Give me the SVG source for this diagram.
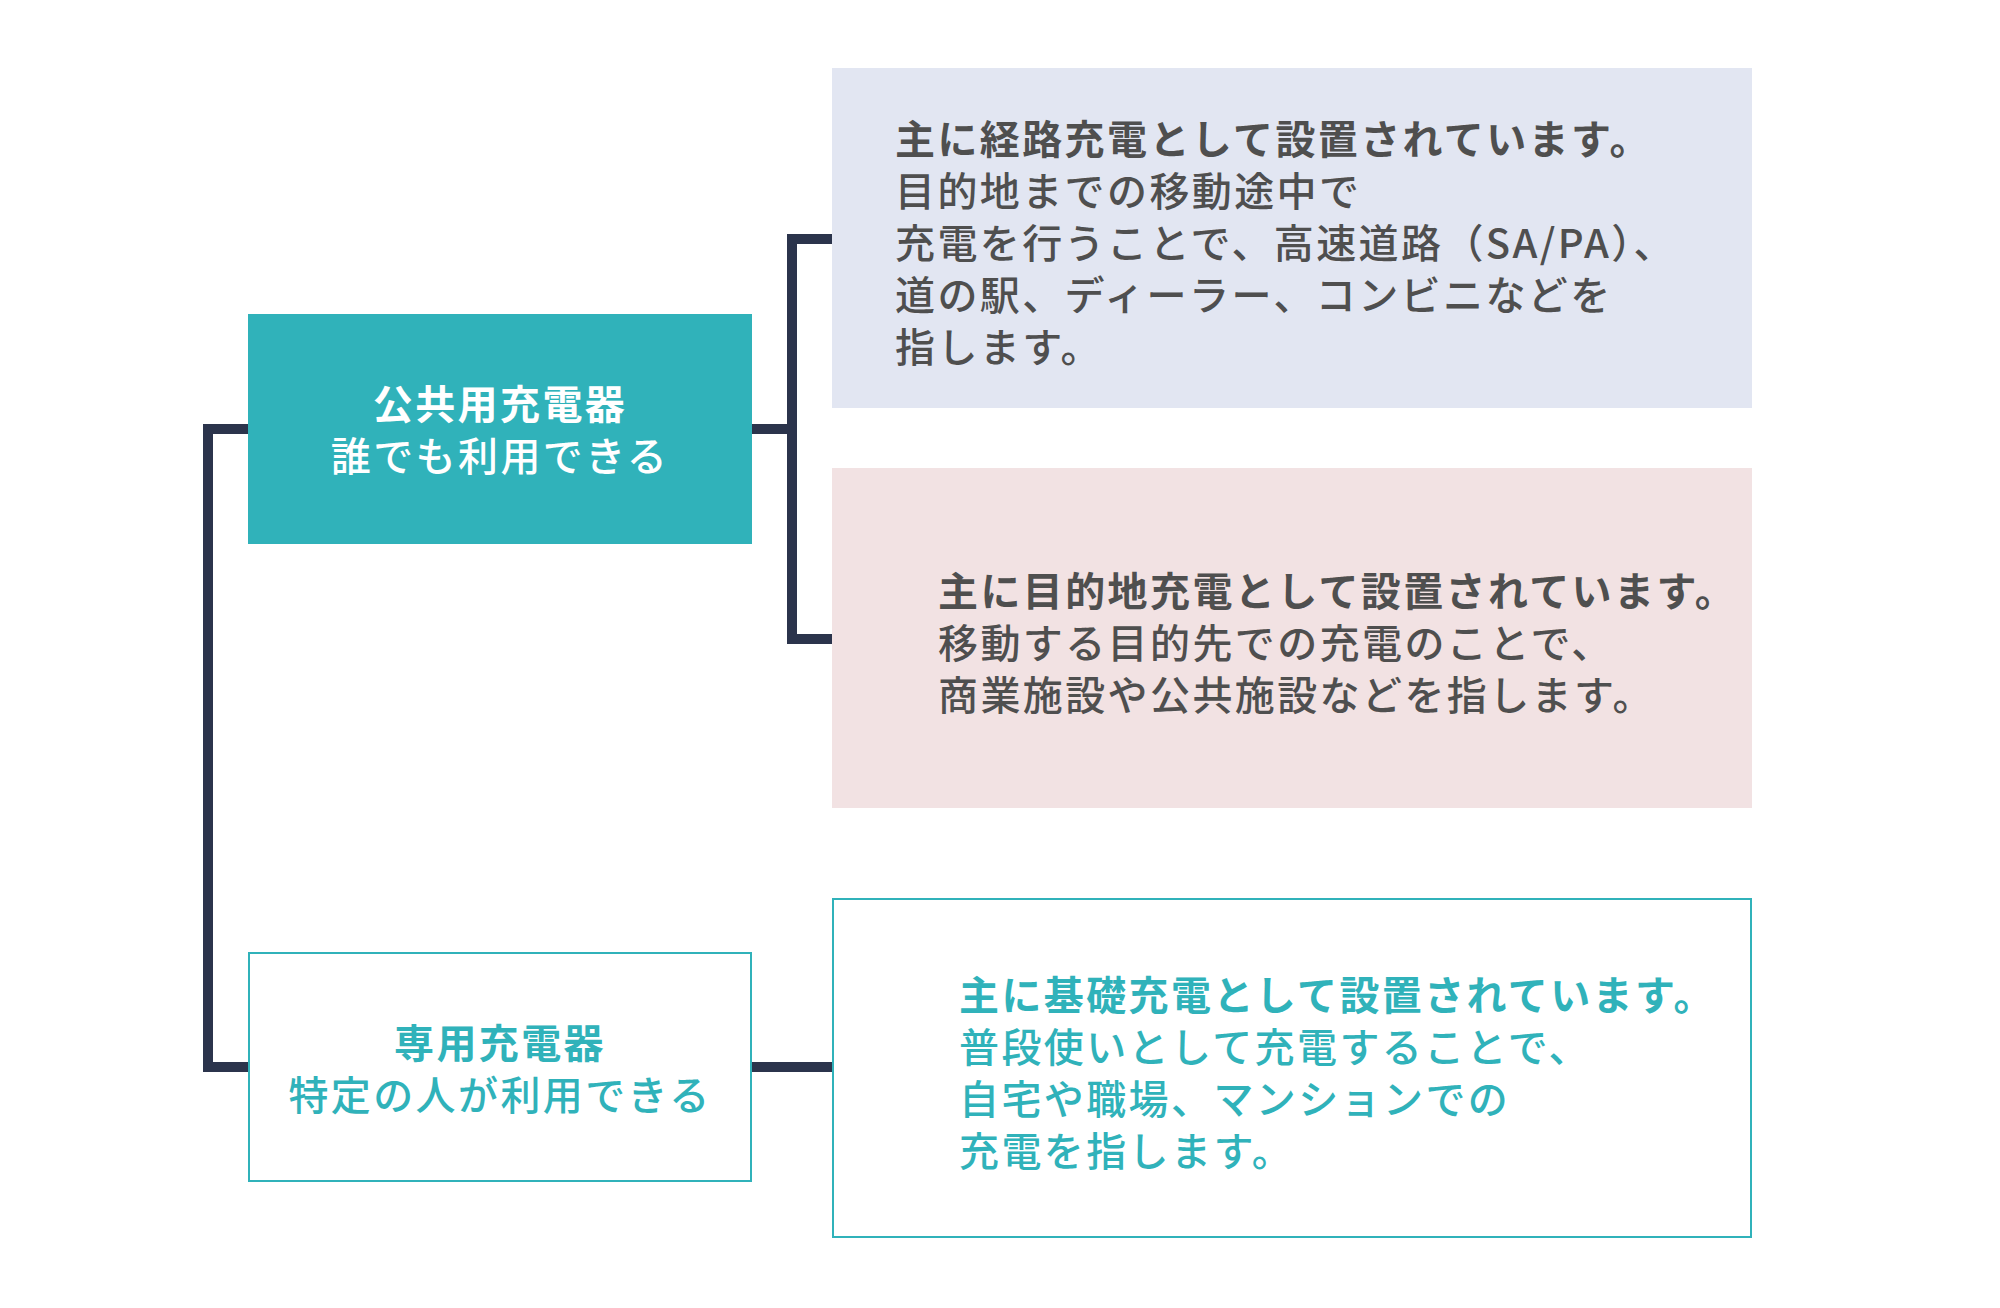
<svg xmlns="http://www.w3.org/2000/svg" width="2000" height="1308" viewBox="0 0 2000 1308">
<style>
text{font-family:"Noto Sans CJK JP","Noto Sans CJK SC",sans-serif;font-size:40px;letter-spacing:2.4px}
.g{fill:#4f4f4f}
.w{fill:#ffffff}
.t{fill:#30b2ba}
.b{font-weight:700}
.m{font-weight:500}
.c{text-anchor:middle}
.conn{fill:none;stroke:#2b344c;stroke-width:10;stroke-linejoin:miter;stroke-linecap:butt}
</style>
<rect x="0" y="0" width="2000" height="1308" fill="#ffffff"/>
<g id="connectors">
<path class="conn" d="M248 429H208V1067H248"/>
<path class="conn" d="M752 429H792"/>
<path class="conn" d="M832 239H792V639H832"/>
<path class="conn" d="M752 1067H832"/>
</g>
<g id="public">
<rect x="248" y="314" width="504" height="230" fill="#30b2ba"/>
<text class="w b c" x="500" y="419">公共用充電器</text>
<text class="w m c" x="500" y="471">誰でも利用できる</text>
</g>
<g id="route">
<rect x="832" y="68" width="920" height="340" fill="#e2e6f2"/>
<text class="g b" x="895" y="154">主に経路充電として設置されています。</text>
<text class="g m" x="895" y="206">目的地までの移動途中で</text>
<text class="g m" x="895" y="258">充電を行うことで、高速道路（SA/PA）、</text>
<text class="g m" x="895" y="310">道の駅、ディーラー、コンビニなどを</text>
<text class="g m" x="895" y="362">指します。</text>
</g>
<g id="destination">
<rect x="832" y="468" width="920" height="340" fill="#f2e2e3"/>
<text class="g b" x="938" y="606">主に目的地充電として設置されています。</text>
<text class="g m" x="938" y="658">移動する目的先での充電のことで、</text>
<text class="g m" x="938" y="710">商業施設や公共施設などを指します。</text>
</g>
<g id="private">
<rect x="249" y="953" width="502" height="228" fill="#ffffff" stroke="#30b2ba" stroke-width="2"/>
<text class="t b c" x="500" y="1058">専用充電器</text>
<text class="t m c" x="500" y="1110">特定の人が利用できる</text>
</g>
<g id="basic">
<rect x="833" y="899" width="918" height="338" fill="#ffffff" stroke="#30b2ba" stroke-width="2"/>
<text class="t b" x="959" y="1010">主に基礎充電として設置されています。</text>
<text class="t m" x="959" y="1062">普段使いとして充電することで、</text>
<text class="t m" x="959" y="1114">自宅や職場、マンションでの</text>
<text class="t m" x="959" y="1166">充電を指します。</text>
</g>
</svg>
